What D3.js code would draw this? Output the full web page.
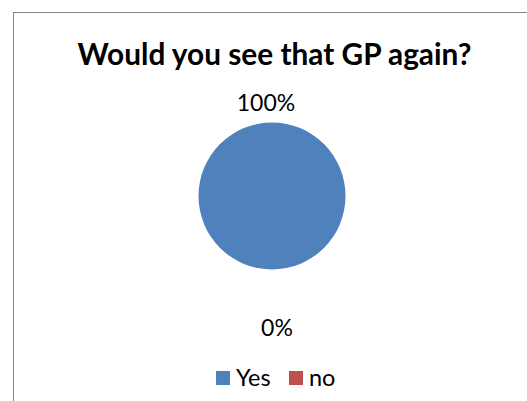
<!DOCTYPE html>
<html><head><meta charset="utf-8">
<script src="https://cdn.jsdelivr.net/npm/d3@7"></script>
<style>body{margin:0;background:#fff;} text{font-family:Lato,"Open Sans",sans-serif;}</style>
</head><body>
<svg id="c" width="527" height="401"></svg>
<script>
const title = "Would you see that GP again?";
const categories = ["Yes", "no"];
const values = [100, 0];
const colors = ["#4F81BD", "#C0504D"];

const svg = d3.select("#c");
svg.append("rect").attr("x", 13.5).attr("y", 12.5).attr("width", 540).attr("height", 400)
  .attr("fill", "#fff").attr("stroke", "#868686").attr("stroke-width", 1);

svg.append("text").attr("x", 274.5).attr("y", 64.5).attr("text-anchor", "middle")
  .attr("font-size", 29.8).attr("font-weight", "bold").attr("fill", "#000").text(title);

const cx = 272, cy = 196, r = 73.5;
const pie = d3.pie().sort(null).startAngle(0).endAngle(2 * Math.PI)(values);
const arc = d3.arc().innerRadius(0).outerRadius(r);
const g = svg.append("g").attr("transform", `translate(${cx},${cy})`);
g.selectAll("path").data(pie).join("path").attr("d", arc)
  .attr("fill", (d, i) => colors[i]);

const total = d3.sum(values);
const fmt = v => Math.round(v / total * 100) + "%";
// labels: largest slice above, zero slice below (as in the reference)
const labelPos = [{dx: -6, dy: -(r + 21)}, {dx: 5, dy: r + 57}];
g.selectAll("text.lbl").data(pie).join("text").attr("class", "lbl")
  .attr("x", (d, i) => labelPos[i].dx).attr("y", (d, i) => labelPos[i].dy)
  .attr("text-anchor", "middle").attr("dominant-baseline", "central")
  .attr("font-size", 23).attr("fill", "#000").text(d => fmt(d.data));

const legendX = [216, 289];
const lg = svg.append("g");
lg.selectAll("rect").data(categories).join("rect")
  .attr("x", (d, i) => legendX[i]).attr("y", 371).attr("width", 14).attr("height", 14)
  .attr("fill", (d, i) => colors[i]);
lg.selectAll("text").data(categories).join("text")
  .attr("x", (d, i) => legendX[i] + 20).attr("y", 386)
  .attr("font-size", 23.5).attr("fill", "#000").text(d => d);
</script>
</body></html>
